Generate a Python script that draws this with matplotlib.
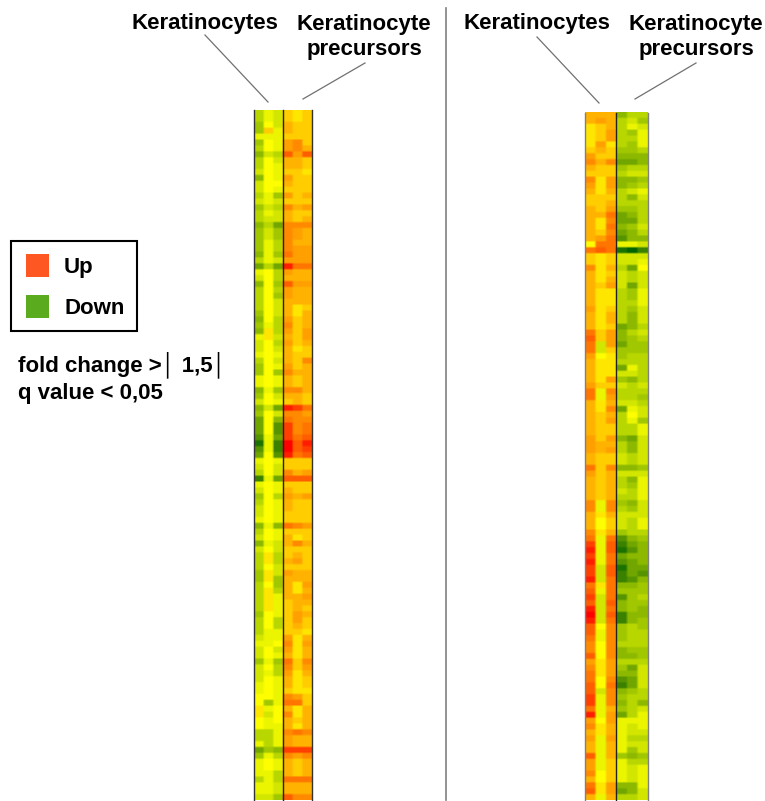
import matplotlib
matplotlib.use("Agg")
import matplotlib.pyplot as plt
import numpy as np
from matplotlib.colors import LinearSegmentedColormap
from matplotlib.patches import Rectangle

plt.rcParams['font.family'] = ['Liberation Sans', 'DejaVu Sans']

# estimated expression level per row, negative = down (green), positive = up (red)
# first three columns keratinocytes, last three keratinocyte precursors
left_levels = [
    [-3,-1,-2,2,1,2],[-3,-1,-2,2,1,2],[-4,0,-2,3,2,2],[-4,2,-1,3,2,2],[-1,-1,-1,2,2,2],
    [-4,0,-1,4,5,2],[-3,0,-1,4,5,3],[-5,-2,-3,7,4,7],[-3,0,-2,3,3,2],[-3,0,-1,3,3,2],
    [-2,0,-1,2,2,1],[-5,0,-1,4,2,2],[-2,0,0,3,2,2],[-2,0,-1,2,2,2],[-3,-1,-4,4,2,3],
    [-2,-1,-2,2,2,2],[-4,-2,-3,5,3,4],[-3,-1,-2,3,2,2],[-3,-2,-2,3,2,3],[-5,-3,-6,5,5,5],
    [-4,-2,-4,5,4,3],[-4,-2,-4,5,4,3],[-4,-1,-3,5,3,3],[-4,-1,-3,5,4,4],[-5,-1,-4,6,4,4],
    [-3,-1,-2,4,4,4],[-6,-3,-6,9,6,6],[-1,0,-3,4,3,3],[-2,0,-3,3,3,3],[-5,0,-4,7,4,4],
    [-3,0,-3,4,3,3],[-3,0,-4,4,3,3],[-3,0,-2,3,3,3],[-3,0,-2,3,1,2],[-4,0,-2,3,1,3],
    [-5,0,-3,4,2,3],[-4,-1,-3,5,2,3],[-5,1,-3,4,2,4],[-1,1,-2,3,2,4],[-2,0,-3,4,2,3],
    [-2,0,-2,3,1,2],[-1,0,-1,3,2,2],[-3,0,-2,3,2,5],[-4,0,-1,4,2,3],[-4,0,-4,5,3,3],
    [-1,0,-1,3,2,3],[-1,0,-1,3,2,3],[-5,-1,-4,5,5,3],[-4,0,-2,3,3,2],[-2,0,-1,2,3,2],
    [-5,-2,-6,9,8,6],[-4,0,-2,5,5,4],[-6,0,-5,6,5,5],[-6,0,-7,8,5,6],[-6,0,-7,8,5,6],
    [-7,-1,-6,8,6,7],[-9,-1,-8,10,7,9],[-7,-1,-8,10,7,8],[-6,0,-7,9,6,7],[-1,0,-1,2,2,2],
    [-2,0,-2,2,2,2],[-3,0,-2,5,3,4],[-8,-1,-6,7,7,7],[-1,0,-1,2,2,2],[-2,0,-1,3,2,2],
    [-4,0,-3,4,3,4],[-3,0,-1,3,2,2],[-2,0,-1,3,2,2],[-2,0,-1,2,2,2],[-1,0,-1,2,2,2],
    [-5,-1,-5,6,5,4],[-3,0,-1,2,2,2],[-2,0,-1,3,1,2],[-5,-1,-2,3,5,3],[-2,0,-2,2,2,2],
    [-3,1,-3,2,3,2],[-3,1,-3,3,4,2],[-3,0,-2,2,2,2],[-4,1,-2,4,3,3],[-4,1,-4,3,3,3],
    [-3,0,-4,3,1,4],[-3,1,-3,3,1,3],[-3,1,-1,3,3,4],[-3,1,-1,2,3,3],[-3,1,-1,2,3,2],
    [-4,0,-1,2,4,3],[-3,0,-3,2,4,2],[-3,0,-3,2,3,2],[-3,-1,-1,2,2,1],[-2,-1,-1,4,1,3],
    [-1,-1,0,5,1,4],[-2,0,-2,4,1,3],[-2,0,-1,3,1,3],[-4,-1,-4,6,2,5],[-2,0,-3,5,2,4],
    [-2,-1,-3,4,1,3],[-2,0,-1,3,1,2],[-1,0,-1,3,1,2],[-1,0,-1,2,1,1],[0,0,-1,5,4,2],
    [0,-4,-1,6,6,2],[1,-1,0,3,1,3],[1,-2,0,5,1,3],[0,-1,0,3,2,3],[0,-1,-1,3,1,3],
    [-3,-3,-1,5,6,5],[-3,-3,-1,4,3,3],[-1,-3,-1,4,3,3],[-6,-4,-5,8,8,8],[-4,-1,-3,5,4,5],
    [-1,0,-1,3,2,3],[-1,0,-1,3,2,3],[-1,-1,-3,3,2,3],[-3,-1,-3,6,6,6],[-1,-1,-2,3,3,3],
    [-1,-1,-2,3,3,3],[-2,-2,-4,7,5,5],
]

right_levels = [
    [3,3,3,-5,-3,-3],[3,4,3,-3,-2,-4],[1,2,3,-3,-1,-2],[1,2,4,-3,-4,-1],[1,2,4,-3,-3,-1],
    [1,4,1,-3,-4,-1],[2,3,2,-4,-4,-3],[4,2,2,-5,-5,-5],[5,3,5,-6,-6,-5],[3,2,2,-4,-3,-3],
    [2,2,2,-3,-2,-2],[5,1,4,-5,-5,-4],[4,1,4,-5,-4,-3],[3,1,3,-3,-2,-1],[2,2,2,-3,-5,-2],
    [2,2,3,-3,-3,-3],[3,2,4,-4,-4,-3],[3,3,6,-6,-5,-3],[3,1,5,-6,-6,-3],[3,1,6,-5,-4,-2],
    [3,2,5,-6,-5,-3],[3,4,6,-7,-5,-5],[0,6,6,-1,-1,-2],[6,7,6,-9,-10,-8],[2,1,2,-2,-2,-2],
    [2,1,2,-2,-2,-1],[5,1,3,-3,-6,0],[3,1,2,-2,-3,-2],[3,1,3,-2,-3,-2],[3,2,4,-2,-6,-2],
    [3,1,1,-3,-4,-1],[3,1,1,-3,-4,-1],[3,1,1,-3,-3,-1],[4,1,2,-3,-4,-2],[3,1,3,-3,-5,-2],
    [3,1,3,-3,-5,-2],[3,1,2,-6,-5,-3],[6,2,4,-5,-3,-2],[7,2,4,-5,-4,-3],[6,-2,4,-6,-4,-4],
    [6,-2,2,-4,-4,-4],[4,0,1,-4,-3,-3],[3,1,1,-3,-3,-3],[3,1,1,-6,-1,-3],[3,1,1,-2,-2,-3],
    [3,1,4,-4,-5,-3],[4,2,2,-2,-3,-2],[6,-1,5,-3,-3,-3],[6,-1,4,-3,-3,-4],[3,1,3,-2,-2,-3],
    [3,1,5,-6,-1,-2],[3,2,3,-3,0,-2],[3,2,4,-3,-1,-4],[3,2,2,-3,-3,-1],[3,2,2,-3,-3,-1],
    [4,2,4,-5,-6,-2],[4,3,3,-3,-5,-2],[4,3,4,-3,-5,-2],[3,2,2,-2,-3,-2],[3,2,2,-2,-3,-2],
    [6,2,5,-5,-5,-4],[4,2,3,-2,-2,-2],[3,2,3,-3,-5,-1],[3,2,3,-3,-4,-1],[3,2,3,-2,-3,-1],
    [3,2,3,-3,-3,-1],[5,-1,5,-4,-5,-2],[5,-1,5,-3,-4,-2],[3,1,3,-2,-2,-2],[3,0,2,-2,-3,-1],
    [3,0,2,-2,-3,-1],[5,1,3,-4,-3,-3],[6,-1,6,-7,-5,-4],[8,-1,7,-8,-6,-5],[9,-1,7,-9,-7,-5],
    [8,-1,6,-6,-5,-5],[9,-1,6,-7,-6,-5],[8,-2,7,-9,-6,-6],[8,-2,7,-8,-6,-7],[9,-2,6,-8,-7,-5],
    [6,1,6,-5,-5,-4],[7,-1,6,-4,-4,-4],[8,-2,6,-7,-4,-3],[7,-2,7,-5,-4,-4],[9,-2,6,-5,-4,-5],
    [10,-2,7,-8,-5,-5],[9,-2,6,-8,-5,-4],[7,0,5,-4,-3,-4],[7,-1,5,-4,-3,-3],[6,-1,5,-4,-3,-3],
    [5,0,5,-3,-3,-3],[5,0,5,-5,-4,-4],[7,0,5,-5,-5,-4],[4,1,4,-3,-3,-3],[5,1,4,-4,-6,-2],
    [6,1,4,-5,-5,-2],[6,0,5,-7,-6,-2],[7,0,6,-8,-6,-2],[7,-2,5,-5,-4,-3],[8,-1,5,-4,-3,-3],
    [8,-1,5,-5,-3,-5],[6,-1,3,-4,-3,-2],[9,-1,4,-6,-3,-1],[4,0,4,-1,-1,-1],[5,1,3,-1,-2,-1],
    [3,1,3,-1,-2,-2],[4,-1,4,-1,-3,-3],[3,-1,3,-1,-2,-2],[3,-1,3,-1,-4,-2],[7,-1,3,-4,-5,-4],
    [4,-1,2,-1,-3,-3],[4,-1,2,-1,-2,-1],[5,0,2,-1,-2,-1],[3,0,2,-1,-2,-1],[6,1,4,-5,-5,-1],
    [7,1,4,-6,-5,-2],[3,-1,3,-3,-3,-2],
]

group_label = "Keratinocytes"
precursor_label = "Keratinocyte\nprecursors"
legend_labels = ["Up", "Down"]
legend_colors = ["#FF5722", "#5AAB1E"]
note_lines = ["fold change >│ 1,5│", "q value < 0,05"]

# hand tuned ramp, one stop per level that shows up often
cmap = LinearSegmentedColormap.from_list("gyr", [
    (0.00, "#006400"),
    (0.10, "#3C8200"),
    (0.25, "#8CB900"),
    (0.35, "#B9D700"),
    (0.45, "#EBF500"),
    (0.50, "#FFFF00"),
    (0.55, "#FFE600"),
    (0.60, "#FFCD00"),
    (0.65, "#FFB400"),
    (0.75, "#FF8C00"),
    (0.85, "#FF5F00"),
    (1.00, "#FF0000"),
])

fig = plt.figure(figsize=(7.65, 8.01), dpi=100)
ax = fig.add_axes([0, 0, 1, 1])


def draw_panel(levels, x0, x1, top, bottom, edge):
    # repeat cells so the bilinear smoothing only softens their edges
    values = np.repeat(np.repeat(np.array(levels), 3, axis=0), 4, axis=1)
    ax.imshow(values, cmap=cmap, vmin=-10, vmax=10, aspect="auto",
              extent=(x0, x1, bottom, top), interpolation="bilinear", zorder=1)
    mid = (x0 + x1) / 2
    ax.plot([x0, x0], [top, bottom], color=edge, lw=1.0, zorder=2)
    ax.plot([x1, x1], [top, bottom], color=edge, lw=1.0, zorder=2)
    ax.plot([mid, mid], [top, bottom], color="#222222", lw=1.0, zorder=2)


draw_panel(left_levels, 254, 312, 110, 800, "#333333")
draw_panel(right_levels, 585, 648, 112.5, 800, "#808080")

ax.set_xlim(0, 765)
ax.set_ylim(801, 0)
ax.axis("off")

# divider between the two panels
ax.plot([446, 446], [8, 800], color="#808080", lw=1.2)

# column labels and their leader lines
for center, prec_center, lead, prec_lead in [
    (205, 364, [(205, 35), (268, 102)], [(365, 63), (303, 99)]),
    (537, 696, [(537, 37), (599, 103)], [(696, 63), (635, 99)]),
]:
    ax.text(center, 24, group_label, ha="center", va="center", fontsize=16, fontweight="bold")
    ax.text(prec_center, 37, precursor_label, ha="center", va="center", fontsize=16,
            fontweight="bold", linespacing=1.3)
    ax.plot(*zip(*lead), color="#707070", lw=0.9)
    ax.plot(*zip(*prec_lead), color="#707070", lw=0.9)

# legend box
ax.add_patch(Rectangle((11, 241), 126, 90, fill=False, ec="black", lw=1.5))
for y, label, color in zip([254, 295], legend_labels, legend_colors):
    ax.add_patch(Rectangle((26, y), 23, 23, fc=color, ec="none"))
    ax.text(64, y + 14, label, ha="left", va="center", fontsize=16, fontweight="bold")

ax.text(18, 365, note_lines[0], ha="left", va="center", fontsize=16, fontweight="bold")
ax.text(18, 394, note_lines[1], ha="left", va="center", fontsize=16, fontweight="bold")

fig.savefig("out.png", dpi=100)
